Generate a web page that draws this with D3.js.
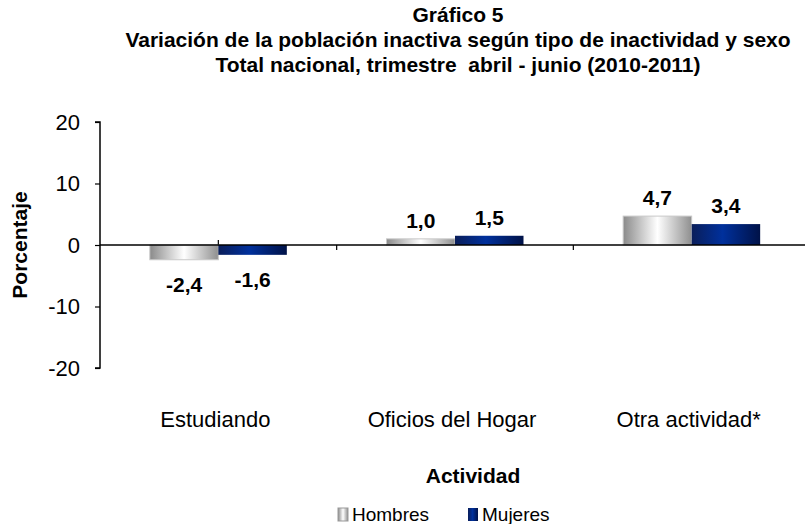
<!DOCTYPE html>
<html>
<head>
<meta charset="utf-8">
<script src="https://cdn.jsdelivr.net/npm/d3@7"></script>
<style>
  body { margin: 0; background: #fff; }
  svg { font-family: Arial, "Liberation Sans", sans-serif; }
</style>
</head>
<body>
<div class="chart"></div>
<script>
// data
var categories = ["Estudiando", "Oficios del Hogar", "Otra actividad*"];
var seriesNames = ["Hombres", "Mujeres"];
var hombres = [-2.4, 1.0, 4.7];
var mujeres = [-1.6, 1.5, 3.4];
var yTicks = [-20, -10, 0, 10, 20];
var titleLines = [
  "Gráfico 5",
  "Variación de la población inactiva según tipo de inactividad y sexo",
  "Total nacional, trimestre  abril - junio (2010-2011)"
];

var width = 805, height = 524;
var margin = {top: 122, right: -5, bottom: 156, left: 100};

var svg = d3.select(".chart").append("svg")
  .attr("width", width)
  .attr("height", height);

// gradients
var defs = svg.append("defs");
var gGray = defs.append("linearGradient").attr("id", "gradGray")
  .attr("x1", "0%").attr("x2", "100%").attr("y1", "0%").attr("y2", "0%");
gGray.append("stop").attr("offset", "0%").attr("stop-color", "#8a8a8a");
gGray.append("stop").attr("offset", "50%").attr("stop-color", "#ffffff");
gGray.append("stop").attr("offset", "100%").attr("stop-color", "#8f8f8f");

var gBlue = defs.append("linearGradient").attr("id", "gradBlue")
  .attr("x1", "0%").attr("x2", "100%").attr("y1", "0%").attr("y2", "0%");
gBlue.append("stop").attr("offset", "0%").attr("stop-color", "#0a1e5a");
gBlue.append("stop").attr("offset", "45%").attr("stop-color", "#00309c");
gBlue.append("stop").attr("offset", "100%").attr("stop-color", "#001248");

var fills = ["url(#gradGray)", "url(#gradBlue)"];
var strokes = ["#c8c8c8", "none"];

function fmt(v) { return String(v.toFixed(1)).replace(".", ","); }

// scales
var x0 = d3.scaleBand()
  .domain(categories)
  .range([margin.left, width - margin.right])
  .paddingInner(0).paddingOuter(0);

var groupW = 137;
var x1 = d3.scaleBand()
  .domain(seriesNames)
  .range([(x0.bandwidth() - groupW) / 2, (x0.bandwidth() + groupW) / 2]);

var y = d3.scaleLinear()
  .domain([-20, 20])
  .range([height - margin.bottom, margin.top]);

// title
svg.append("g").selectAll("text")
  .data(titleLines)
  .enter().append("text")
  .attr("x", 458)
  .attr("y", function (d, i) { return 22 + i * 25; })
  .attr("text-anchor", "middle")
  .attr("font-size", "21px")
  .attr("font-weight", "bold")
  .attr("xml:space", "preserve")
  .style("white-space", "pre")
  .text(function (d) { return d; });

// y axis
var yAxis = svg.append("g")
  .attr("transform", "translate(" + margin.left + ",0)")
  .call(d3.axisLeft(y).tickValues(yTicks).tickSize(5).tickPadding(15)
    .tickFormat(function (d) { return String(d); }));
yAxis.select(".domain").attr("stroke", "#000").attr("stroke-width", 1.5)
  .attr("d", "M-5," + y(20) + "H0V" + y(-20) + "H-5");
yAxis.selectAll(".tick line").attr("stroke", "#000").attr("stroke-width", 1.2);
yAxis.selectAll(".tick text").attr("font-size", "22px").attr("fill", "#000")
  .attr("font-family", "Arial, 'Liberation Sans', sans-serif");

svg.append("text")
  .attr("transform", "translate(27," + y(0) + ") rotate(-90)")
  .attr("text-anchor", "middle")
  .attr("font-size", "21px")
  .attr("font-weight", "bold")
  .text("Porcentaje");

// x axis at zero (drawn under bars)
var xAxis = svg.append("g");
xAxis.selectAll("line.mid")
  .data(categories)
  .enter().append("line")
  .attr("class", "mid")
  .attr("x1", function (d) { return x0(d) + x0.bandwidth() / 2; })
  .attr("x2", function (d) { return x0(d) + x0.bandwidth() / 2; })
  .attr("y1", y(0)).attr("y2", y(0) - 5)
  .attr("stroke", "#000").attr("stroke-width", 1.2);

// bars
var rows = categories.map(function (c, i) {
  return {cat: c, vals: [hombres[i], mujeres[i]]};
});

var groups = svg.append("g").selectAll("g")
  .data(rows)
  .enter().append("g")
  .attr("transform", function (d) { return "translate(" + x0(d.cat) + ",0)"; });

groups.selectAll("rect")
  .data(function (d) { return d.vals.map(function (v, j) { return {s: seriesNames[j], v: v, j: j}; }); })
  .enter().append("rect")
  .attr("x", function (d) { return x1(d.s); })
  .attr("width", x1.bandwidth())
  .attr("y", function (d) { return y(Math.max(0, d.v)); })
  .attr("height", function (d) { return Math.abs(y(d.v) - y(0)); })
  .attr("fill", function (d) { return fills[d.j]; })
  .attr("stroke", function (d) { return strokes[d.j]; })
  .attr("stroke-width", 1);

groups.selectAll("text")
  .data(function (d) { return d.vals.map(function (v, j) { return {s: seriesNames[j], v: v}; }); })
  .enter().append("text")
  .attr("x", function (d) { return x1(d.s) + x1.bandwidth() / 2; })
  .attr("y", function (d) { return d.v >= 0 ? y(d.v) - 11 : y(d.v) + 32; })
  .attr("text-anchor", "middle")
  .attr("font-size", "21px")
  .attr("font-weight", "bold")
  .text(function (d) { return fmt(d.v); });

var zeroLine = svg.append("g");
zeroLine.append("line")
  .attr("x1", margin.left).attr("x2", width)
  .attr("y1", y(0)).attr("y2", y(0))
  .attr("stroke", "#000").attr("stroke-width", 1.5);
// tick marks between categories
zeroLine.selectAll("line.bound")
  .data(categories.slice(1))
  .enter().append("line")
  .attr("class", "bound")
  .attr("x1", function (d) { return x0(d); }).attr("x2", function (d) { return x0(d); })
  .attr("y1", y(0)).attr("y2", y(0) + 5)
  .attr("stroke", "#000").attr("stroke-width", 1.2);

// category labels
svg.append("g").selectAll("text")
  .data(categories)
  .enter().append("text")
  .attr("x", function (d) { return x0(d) + x0.bandwidth() / 2 - 3; })
  .attr("y", 427)
  .attr("text-anchor", "middle")
  .attr("font-size", "22px")
  .text(function (d) { return d; });

svg.append("text")
  .attr("x", 473)
  .attr("y", 483)
  .attr("text-anchor", "middle")
  .attr("font-size", "21px")
  .attr("font-weight", "bold")
  .text("Actividad");

// legend
var legendX = [338, 468];
var legend = svg.append("g").selectAll("g")
  .data(seriesNames)
  .enter().append("g")
  .attr("transform", function (d, i) { return "translate(" + legendX[i] + ",508)"; });
legend.append("rect")
  .attr("width", 10).attr("height", 13)
  .attr("fill", function (d, i) { return fills[i]; })
  .attr("stroke", function (d, i) { return i === 0 ? "#999" : "none"; });
legend.append("text")
  .attr("x", 14).attr("y", 13)
  .attr("font-size", "19px")
  .text(function (d) { return d; });
</script>
</body>
</html>
